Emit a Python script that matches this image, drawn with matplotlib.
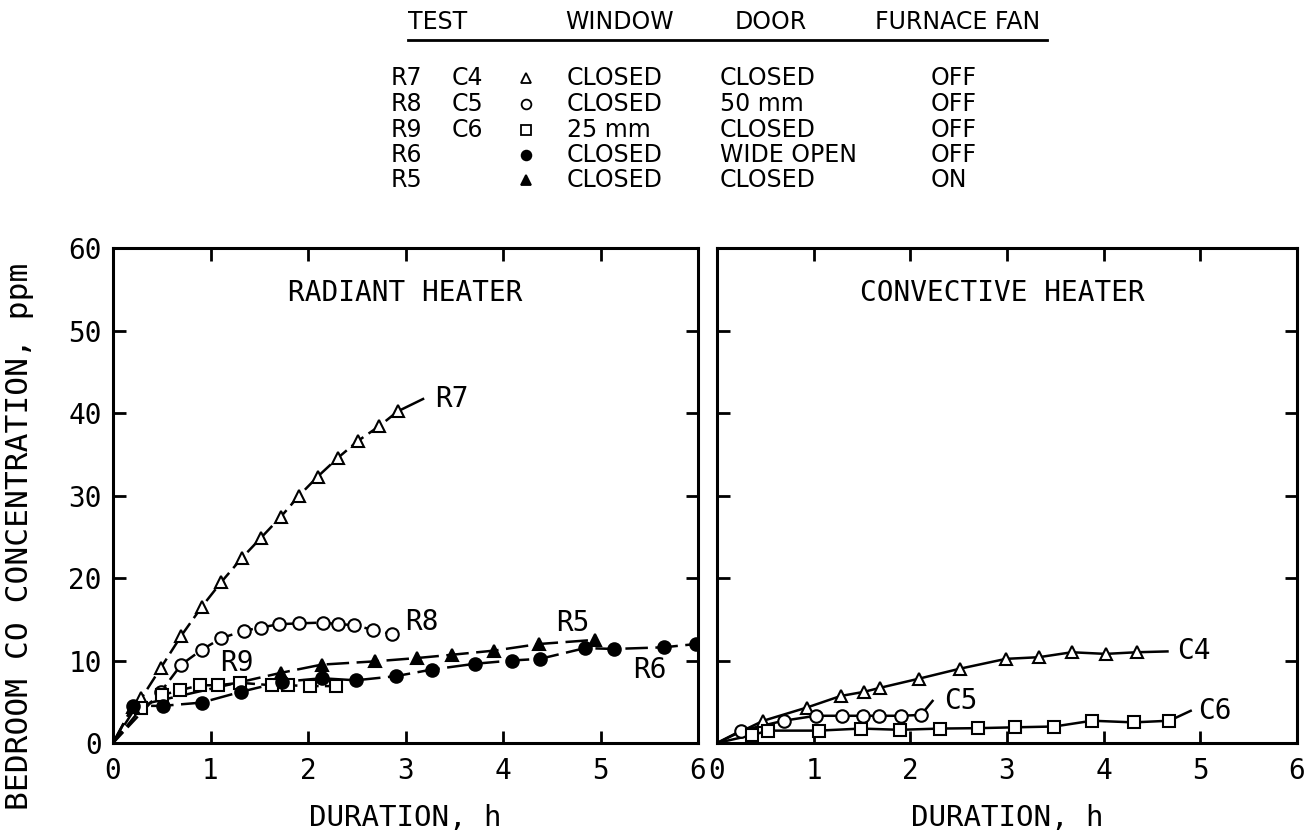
import numpy as np
import matplotlib
matplotlib.use("Agg")
import matplotlib.pyplot as plt

MONO = "DejaVu Sans Mono"
SANS = "DejaVu Sans"
plt.rcParams.update({
    "font.family": MONO,
    "axes.linewidth": 2.2,
    "xtick.major.width": 2.0, "ytick.major.width": 2.0,
})

# ---- legend table ----
test_r = ["R7", "R8", "R9", "R6", "R5"]
test_c = ["C4", "C5", "C6", "", ""]
window = ["CLOSED", "CLOSED", "25 mm", "CLOSED", "CLOSED"]
door = ["CLOSED", "50 mm", "CLOSED", "WIDE OPEN", "CLOSED"]
fan = ["OFF", "OFF", "OFF", "OFF", "ON"]
headers = ["TEST", "WINDOW", "DOOR", "FURNACE FAN"]

# ---- radiant heater (left) ----
r7_x = [0.29, 0.49, 0.70, 0.91, 1.11, 1.32, 1.52, 1.72, 1.91, 2.10, 2.31, 2.51, 2.73, 2.92]
r7_y = [5.4, 9.1, 13.0, 16.5, 19.5, 22.4, 24.9, 27.4, 30.0, 32.3, 34.6, 36.6, 38.4, 40.2]
r8_x = [0.49, 0.70, 0.91, 1.11, 1.34, 1.52, 1.70, 1.91, 2.15, 2.31, 2.47, 2.67, 2.86]
r8_y = [6.2, 9.5, 11.3, 12.7, 13.6, 14.0, 14.4, 14.5, 14.6, 14.4, 14.3, 13.7, 13.2]
r9_x = [0.29, 0.50, 0.69, 0.89, 1.08, 1.30, 1.63, 1.79, 2.02, 2.29]
r9_y = [4.2, 5.8, 6.4, 7.0, 7.0, 7.3, 7.0, 7.0, 6.9, 6.9]
r6_x = [0.21, 0.51, 0.91, 1.31, 1.73, 2.14, 2.49, 2.90, 3.27, 3.71, 4.09, 4.38, 4.84, 5.14, 5.65, 5.98]
r6_y = [4.5, 4.5, 4.9, 6.2, 7.4, 7.85, 7.6, 8.1, 8.9, 9.6, 10.0, 10.2, 11.5, 11.4, 11.6, 12.0]
r5_x = [0.20, 1.72, 2.14, 2.69, 3.12, 3.48, 3.91, 4.37, 4.94]
r5_y = [4.4, 8.5, 9.5, 9.9, 10.3, 10.7, 11.2, 12.0, 12.5]

# ---- convective heater (right) ----
c4_x = [0.48, 0.93, 1.28, 1.52, 1.69, 2.09, 2.51, 2.99, 3.33, 3.67, 4.02, 4.34]
c4_y = [2.7, 4.3, 5.7, 6.2, 6.7, 7.8, 9.0, 10.2, 10.4, 11.0, 10.8, 11.0]
c5_x = [0.25, 0.69, 1.02, 1.29, 1.51, 1.68, 1.90, 2.11]
c5_y = [1.5, 2.7, 3.3, 3.3, 3.3, 3.3, 3.3, 3.4]
c6_x = [0.36, 0.53, 1.05, 1.49, 1.89, 2.31, 2.70, 3.08, 3.49, 3.88, 4.31, 4.68]
c6_y = [0.95, 1.5, 1.5, 1.75, 1.6, 1.75, 1.8, 1.9, 2.0, 2.7, 2.5, 2.7]

W, H = 1310, 838
fig = plt.figure(figsize=(W / 100, H / 100), dpi=100)
axL = fig.add_axes([113 / W, 1 - 743 / H, 585 / W, 495 / H])
axR = fig.add_axes([717 / W, 1 - 743 / H, 580 / W, 495 / H])


def series(ax, x, y, marker, filled, ls):
    ax.plot(np.r_[0, x], np.r_[0, y], color="k", lw=1.8, ls=ls, zorder=2)
    ax.plot(x, y, ls="none", marker=marker, ms=9, mec="k", mew=1.5,
            mfc="k" if filled else "white", zorder=3)


def tag(ax, x, y, text, pos, leader=None):
    if leader is not None:
        ax.plot([x[-1], leader], [y[-1], pos[1]], color="k", lw=1.8, zorder=2)
    ax.text(pos[0], pos[1], text, fontsize=20, ha="left", va="center")


dash = (0, (6, 2.5))
series(axL, r7_x, r7_y, "^", False, dash)
series(axL, r8_x, r8_y, "o", False, dash)
series(axL, r9_x, r9_y, "s", False, dash)
series(axL, r6_x, r6_y, "o", True, (0, (9, 3)))
series(axL, r5_x, r5_y, "^", True, (0, (9, 3)))
tag(axL, r7_x, r7_y, "R7", (3.30, 41.7), leader=3.18)
tag(axL, r8_x, r8_y, "R8", (3.00, 14.7))
tag(axL, r9_x, r9_y, "R9", (1.10, 9.7))
tag(axL, r5_x, r5_y, "R5", (4.55, 14.5))
tag(axL, r6_x, r6_y, "R6", (5.33, 8.9))

series(axR, c4_x, c4_y, "^", False, "-")
series(axR, c5_x, c5_y, "o", False, "-")
series(axR, c6_x, c6_y, "s", False, "-")
tag(axR, c4_x, c4_y, "C4", (4.76, 11.1), leader=4.66)
tag(axR, c5_x, c5_y, "C5", (2.35, 5.1), leader=2.23)
tag(axR, c6_x, c6_y, "C6", (4.98, 3.9), leader=4.90)

axL.text(3.0, 54.5, "RADIANT HEATER", fontsize=20, ha="center", va="center")
axR.text(2.95, 54.5, "CONVECTIVE HEATER", fontsize=20, ha="center", va="center")

for ax in (axL, axR):
    ax.set_xlim(0, 6)
    ax.set_ylim(0, 60)
    ax.set_xticks(range(0, 7))
    ax.set_yticks(range(0, 61, 10))
    ax.tick_params(direction="in", length=9, top=True, right=True,
                   labelsize=20, pad=10)
    ax.set_xlabel("DURATION, h", fontsize=21, labelpad=14)
axR.tick_params(labelleft=False)
axL.tick_params(axis="y", pad=8)

fig.text(20 / W, 1 - 536 / H, "BEDROOM CO CONCENTRATION, ppm",
         rotation=90, fontsize=22.5, ha="center", va="center")

# ---- table at the top, in pixel coordinates ----
tab = fig.add_axes([0, 0, 1, 1])
tab.set_xlim(0, W)
tab.set_ylim(H, 0)
tab.axis("off")
head_x = [408, 565, 735, 875]
for hx, ht in zip(head_x, headers):
    tab.text(hx, 22, ht, fontsize=17, family=SANS, ha="left", va="center")
tab.plot([408, 1047], [40, 40], color="k", lw=2)
row_y = [78, 104, 130, 155, 180]
marks = [("^", False), ("o", False), ("s", False), ("o", True), ("^", True)]
for i, ry in enumerate(row_y):
    tab.text(391, ry, test_r[i], fontsize=17, family=SANS, va="center")
    tab.text(452, ry, test_c[i], fontsize=17, family=SANS, va="center")
    tab.text(567, ry, window[i], fontsize=17, family=SANS, va="center")
    tab.text(720, ry, door[i], fontsize=17, family=SANS, va="center")
    tab.text(931, ry, fan[i], fontsize=17, family=SANS, va="center")
    m, filled = marks[i]
    tab.plot([526], [ry], marker=m, ms=7, mec="k", mew=1.3,
             mfc="k" if filled else "white", ls="none")

fig.savefig("out.png", dpi=100)
